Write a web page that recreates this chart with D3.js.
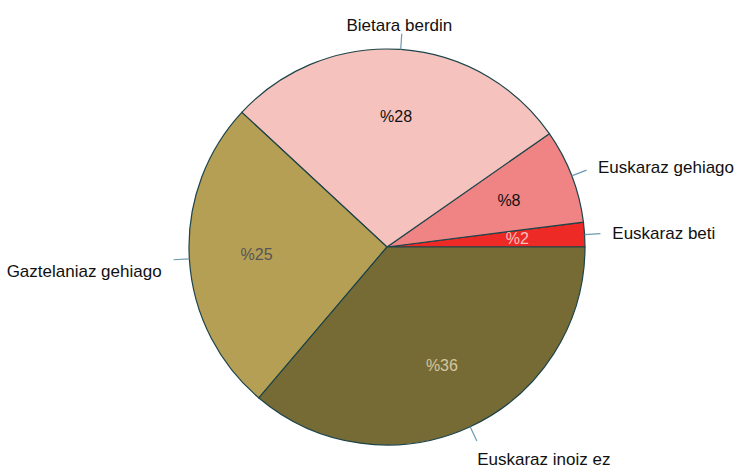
<!DOCTYPE html>
<html><head><meta charset="utf-8">
<script src="https://cdn.jsdelivr.net/npm/d3@7"></script>
<style>body{margin:0;background:#fff}svg{display:block}text{font-family:"Liberation Sans",Arial,sans-serif}</style>
</head><body>
<svg id="c" width="741" height="468"></svg>
<script>
const categories = ["Euskaraz beti","Euskaraz gehiago","Bietara berdin","Gaztelaniaz gehiago","Euskaraz inoiz ez"];
const values = [2.0, 7.7, 28.4, 25.7, 36.2];
const pctLabels = ["%2","%8","%28","%25","%36"];
const colors = ["#ee2a26","#f08484","#f5c2be","#b59f55","#776b35"];
const pctColors = ["#f6c0bc","#111111","#111111","#555555","#d4c6a0"];

const svg = d3.select("#c");
const cx = 387, cy = 247, r = 198;
const g = svg.append("g").attr("transform", `translate(${cx},${cy})`);
const data = categories.map((c,i)=>({c, v:values[i], p:pctLabels[i], col:colors[i], tc:pctColors[i]}));
// R-style: start at 3 o'clock, counterclockwise
const pie = d3.pie().value(d=>d.v).sort(null)
  .startAngle(Math.PI/2).endAngle(Math.PI/2 - 2*Math.PI);
const arcs = pie(data);
const arc = d3.arc().innerRadius(0).outerRadius(r);
g.selectAll("path.s").data(arcs).join("path")
  .attr("d", arc).attr("fill", d=>d.data.col)
  .attr("stroke","#1d4449").attr("stroke-width",1.2);
function mid(d){ return (d.startAngle + d.endAngle)/2; }
function pt(a, rr){ return [rr*Math.sin(a), -rr*Math.cos(a)]; }
g.selectAll("line.l").data(arcs).join("line")
  .attr("x1", d=>pt(mid(d), r)[0]).attr("y1", d=>pt(mid(d), r)[1])
  .attr("x2", d=>pt(mid(d), r*1.08)[0]).attr("y2", d=>pt(mid(d), r*1.08)[1])
  .attr("stroke","#6d9ab0").attr("stroke-width",1.2);
g.selectAll("text.o").data(arcs).join("text")
  .attr("x", d=>{const s=Math.sin(mid(d)); return pt(mid(d), r*1.12)[0]+(Math.abs(s)>0.6?(s>0?4:-4):-3);})
  .attr("y", d=>pt(mid(d), r*1.12)[1]+(-Math.cos(mid(d))>0?11:0))
  .attr("text-anchor", d=>Math.abs(Math.sin(mid(d)))<0.1?"middle":(Math.sin(mid(d))>0?"start":"end"))
  .attr("dominant-baseline","central")
  .attr("font-size",17).attr("fill","#111")
  .text(d=>d.data.c);
g.selectAll("text.p").data(arcs).join("text")
  .attr("x", d=>pt(mid(d), r*0.66)[0]).attr("y", d=>pt(mid(d), r*0.66)[1])
  .attr("text-anchor","middle").attr("dominant-baseline","central")
  .attr("font-size",16).attr("fill", d=>d.data.tc)
  .text(d=>d.data.p);
</script>
</body></html>
